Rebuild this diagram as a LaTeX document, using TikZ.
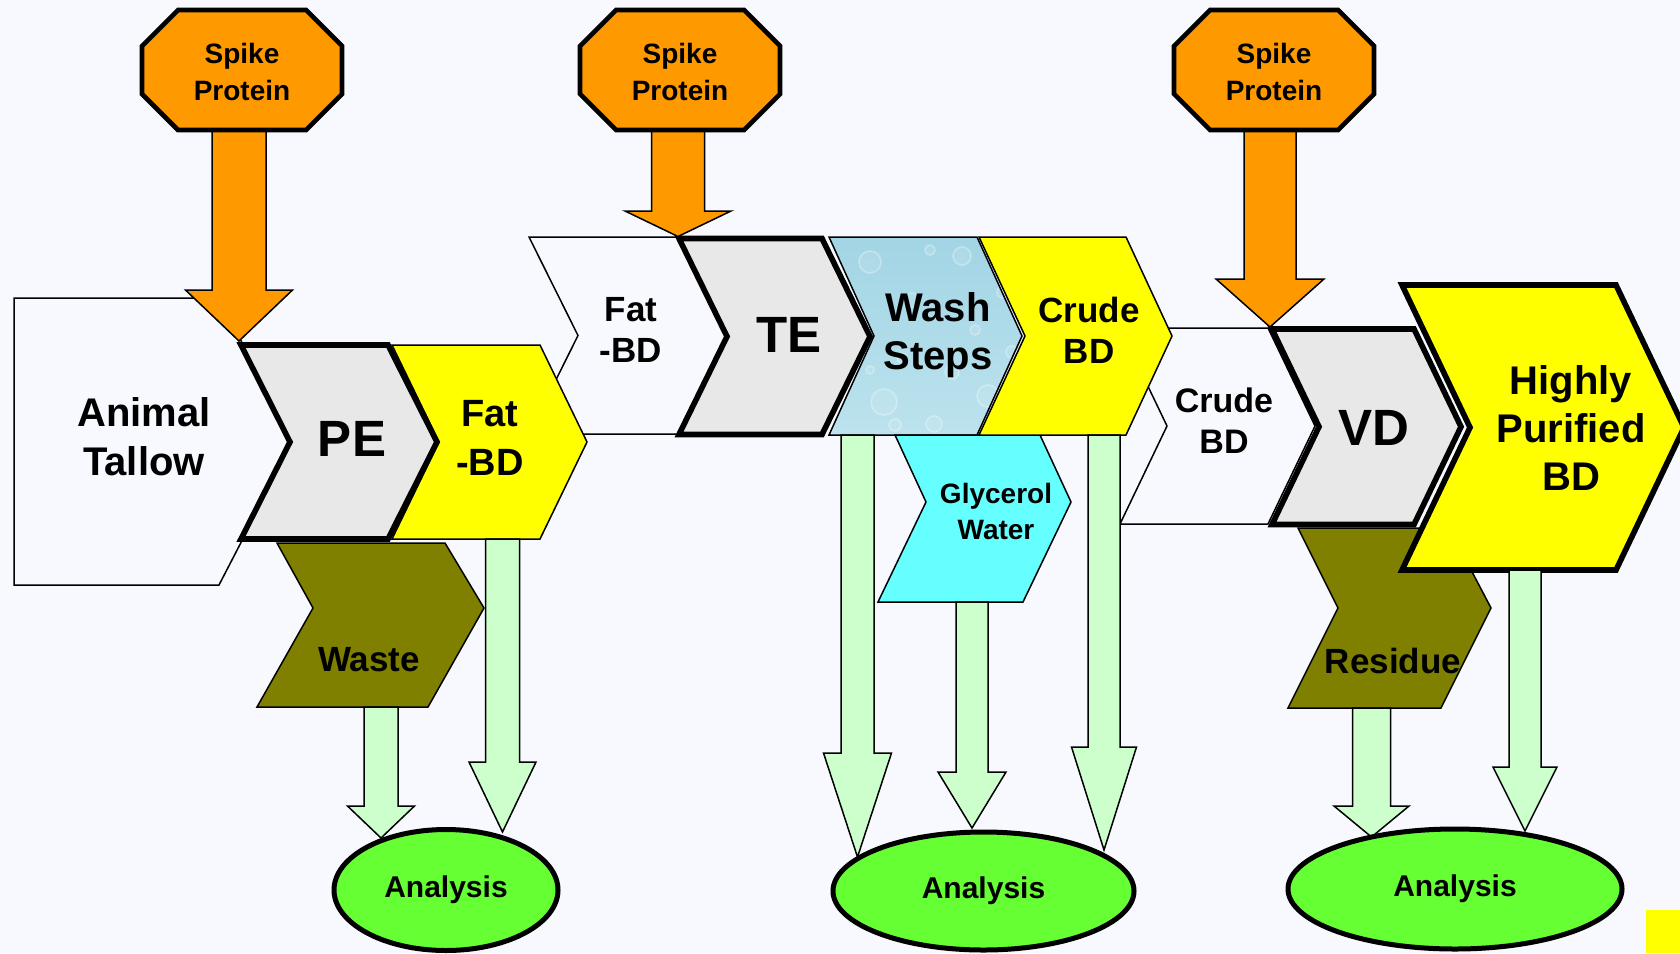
\documentclass[tikz,border=0pt]{standalone}
\usepackage{fontspec}
\setmainfont{Liberation Sans}
\usepackage{tikz}
\usetikzlibrary{shapes.geometric}

\definecolor{bgpale}{RGB}{247,249,254}
\definecolor{spikeorange}{RGB}{255,153,0}
\definecolor{stepgray}{RGB}{232,232,232}
\definecolor{bdyellow}{RGB}{255,255,0}
\definecolor{wasteolive}{RGB}{128,128,0}
\definecolor{glycyan}{RGB}{102,255,255}
\definecolor{flowgreen}{RGB}{204,255,204}
\definecolor{anagreen}{RGB}{102,255,51}
\definecolor{washtop}{RGB}{162,212,228}
\definecolor{washbot}{RGB}{188,227,238}

\begin{document}
\begin{tikzpicture}[x=0.5pt,y=-0.5pt,
    thinline/.style={draw=black,line width=0.75pt,line join=miter},
    thickline/.style={draw=black,line width=2.8pt,line join=miter},
    sz/.style 2 args={font=\bfseries\fontsize{#1}{#2}\selectfont},
    lbl/.style={align=center,inner sep=0pt},
    analysis/.style={ellipse,draw=black,line width=2.5pt,fill=anagreen,inner sep=0pt,sz={15}{18}}]
    % chevron: left x, top y, width, height, tip
    \def\chev#1#2#3#4#5{(#1,#2) -- ++(#3,0) -- ++(#5,#4/2) -- ++(-#5,#4/2) -- ++(-#3,0) -- ++(#5,-#4/2) -- cycle}
    \def\octo#1{(#1-64,10) -- (#1+64,10) -- (#1+100,46) -- (#1+100,94) -- (#1+64,130) -- (#1-64,130) -- (#1-100,94) -- (#1-100,46) -- cycle}
    % down arrow: centre x, top, head base, tip, half shaft, half head
    \def\darrow#1#2#3#4#5#6{(#1-#5,#2) -- (#1+#5,#2) -- (#1+#5,#3) -- (#1+#6,#3) -- (#1,#4) -- (#1-#6,#3) -- (#1-#5,#3) -- cycle}

    \fill[bgpale] (0,0) rectangle (1680,953);
    \useasboundingbox (0,0) rectangle (1680,953);

    % first stage
    \draw[thinline,fill=bgpale] \chev{529}{237}{149}{197}{49};
    \draw[thinline,fill=bgpale] (14,298) -- (219,298) -- (293,442) -- (219,585) -- (14,585) -- cycle;
    \draw[thinline,fill=wasteolive] (277,543) -- (445,543) -- (484,608) -- (428,707) -- (257,707) -- (313,608) -- cycle;
    \draw[thinline,fill=bdyellow] \chev{392}{345}{148}{194}{47};
    \draw[thickline,fill=stepgray] \chev{241}{345}{147}{194}{49};
    \draw[thinline,fill=spikeorange] \darrow{239}{128}{290}{341}{27}{53.5};
    \draw[line width=2.3pt,fill=spikeorange] \octo{242};

    % second stage
    \draw[thickline,fill=stepgray] \chev{679}{238.5}{143}{196}{48};
    \begin{scope}
      \clip \chev{829}{237}{148}{198}{45};
      \shade[top color=washtop,bottom color=washbot] (820,230) rectangle (1030,440);
      \foreach \bx/\by/\br in {870/262/11,912/300/7,962/256/9,1003/292/6,884/402/13,934/424/8,
                               988/396/11,1012/352/6,902/358/5,952/372/7,860/330/6,1008/420/7,
                               848/290/5,930/250/5,975/330/5,895/425/6,1020/260/4,870/370/4}
        \draw[white,draw opacity=0.3,line width=0.8pt,fill=white,fill opacity=0.1] (\bx,\by) circle (\br);
    \end{scope}
    \draw[thinline] \chev{829}{237}{148}{198}{45};
    \draw[thinline,fill=glycyan] (895,435) -- (1040,435) -- (1071,502) -- (1023,602) -- (878,602) -- (926,502) -- cycle;
    \draw[thinline,fill=bgpale] \chev{1120}{328}{148}{196}{47};
    \draw[thinline,fill=bdyellow] \chev{979}{237}{147}{198}{46};
    \draw[thinline,fill=spikeorange] \darrow{678}{128}{211}{236.5}{26.5}{53};
    \draw[line width=2.3pt,fill=spikeorange] \octo{680};

    % third stage
    \draw[thinline,fill=wasteolive] (1298,528) -- (1449,528) -- (1491,608) -- (1441,708) -- (1288,708) -- (1338,608) -- cycle;
    \draw[thickline,fill=stepgray] \chev{1272}{329}{142}{195.5}{47};
    \draw[thickline,fill=bdyellow] \chev{1402}{285}{214}{285}{68};
    \draw[thinline,fill=spikeorange] \darrow{1270}{128}{279}{327}{26}{54};
    \draw[line width=2.3pt,fill=spikeorange] \octo{1274};

    % sampling arrows
    \draw[thinline,fill=flowgreen] \darrow{381}{707}{806}{838}{17}{33.5};
    \draw[thinline,fill=flowgreen] \darrow{502.5}{539}{762}{832}{17}{33.5};
    \draw[thinline,fill=flowgreen] \darrow{857.5}{435}{753}{857}{16.5}{34};
    \draw[thinline,fill=flowgreen] \darrow{972}{602}{772}{828}{16}{34};
    \draw[thinline,fill=flowgreen] \darrow{1104}{435}{747}{850}{16}{32.5};
    \draw[thinline,fill=flowgreen] \darrow{1371.5}{708}{806}{837}{19}{37.5};
    \draw[thinline,fill=flowgreen] \darrow{1525}{570}{767}{831}{16}{32};

    \node[analysis,minimum width=112pt,minimum height=60.5pt] (anaA) at (446,890) {Analysis};
    \node[analysis,minimum width=150.5pt,minimum height=59pt] (anaB) at (983.5,891) {Analysis};
    \node[analysis,minimum width=167pt,minimum height=60pt] (anaC) at (1455,889) {Analysis};

    \fill[bdyellow] (1646,910) rectangle (1680,953);

    % labels
    \node[lbl,sz={14}{18.5}] (spikeA) at (242,71.5) {Spike\\Protein};
    \node[lbl,sz={14}{18.5}] (spikeB) at (680,71.5) {Spike\\Protein};
    \node[lbl,sz={14}{18.5}] (spikeC) at (1274,71.5) {Spike\\Protein};
    \node[lbl,sz={20}{24.5}] (tallow) at (144,437) {Animal\\Tallow};
    \node[lbl,sz={25.5}{30}] (pe) at (352,439) {PE};
    \node[lbl,sz={19}{24.5}] (fatbdA) at (490,438) {Fat\\-BD};
    \node[lbl,sz={17.5}{20.5}] (fatbdB) at (631,330) {Fat\\-BD};
    \node[lbl,sz={25.5}{30}] (te) at (789,335) {TE};
    \node[lbl,sz={20}{24}] (wash) at (938,335.5) {Wash\\Steps};
    \node[lbl,sz={17.5}{20.5}] (crudeA) at (1089,330) {Crude\\BD};
    \node[lbl,sz={14}{18}] (glycerol) at (996,511) {Glycerol\\Water};
    \node[lbl,sz={17}{20.5}] (crudeB) at (1224,421) {Crude\\BD};
    \node[lbl,sz={25.5}{30}] (vd) at (1374,428) {VD};
    \node[lbl,sz={20}{24}] (hpbd) at (1571,428) {Highly\\Purified\\BD};
    \node[lbl,sz={17.5}{20}] (waste) at (369,659.5) {Waste};
    \node[lbl,sz={17.5}{20}] (residue) at (1393,660.5) {Residue};
\end{tikzpicture}
\end{document}
